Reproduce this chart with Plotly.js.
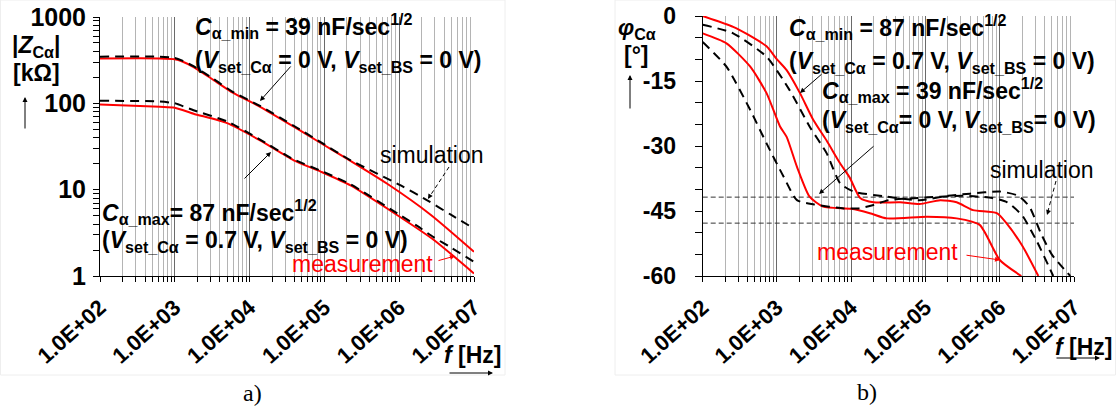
<!DOCTYPE html>
<html>
<head>
<meta charset="utf-8">
<script src="https://cdn.plot.ly/plotly-3.0.1.min.js"></script>
<style>html,body{margin:0;padding:0;background:#fff;}#chart{width:1116px;height:410px;}</style>
</head>
<body>
<div id="chart"></div>
<script>
// ---------- data ----------
// Panel a) |Z_Cα| in kΩ vs frequency in Hz
const measMinF = [100, 630, 1000, 1260, 1780, 3310, 6030, 13800, 38900, 89100, 182000, 692000, 2630000, 1e7];
const measMinZ = [331, 331, 324, 305, 263, 186, 132, 91.2, 53.7, 34.7, 24.0, 11.7, 5.13, 1.91];
const simMinF  = [100, 630, 1000, 1260, 1780, 3310, 6030, 13800, 38900, 89100, 224000, 1050000, 2340000, 4900000, 1e7];
const simMinZ  = [347, 347, 335, 312, 269, 191, 135, 93.3, 55.0, 35.5, 21.9, 11.2, 7.59, 5.13, 3.55];
const measMaxF = [100, 630, 1000, 1780, 5010, 13800, 38900, 89100, 224000, 851000, 2880000, 1e7];
const measMaxZ = [97.2, 91.2, 89.1, 75.9, 58.9, 37.2, 21.9, 16.2, 11.2, 5.37, 2.63, 1.07];
const simMaxF  = [100, 630, 1000, 1780, 5010, 13800, 38900, 89100, 224000, 1050000, 1740000, 2880000, 4900000, 1e7];
const simMaxZ  = [107, 105, 100, 83.2, 61.7, 38.0, 22.4, 16.6, 11.5, 5.01, 3.80, 2.82, 2.14, 1.46];

// Panel b) phase in degrees vs frequency in Hz
const measAF   = [100, 257, 398, 724, 1000, 1350, 2040, 3090, 4680, 7080, 9550, 13200, 20000, 45700, 83200, 158000, 263000, 437000, 912000, 1230000, 2040000, 3310000];
const measAPhi = [0, -2.5, -4.2, -7, -10, -12.5, -17.8, -24, -28.8, -34, -37.3, -42, -43, -43, -43.4, -42.5, -43, -44.8, -45.5, -47.8, -53.2, -60];
const measBF   = [100, 209, 437, 724, 1100, 1350, 1860, 2750, 4170, 10000, 17800, 30200, 105000, 263000, 537000, 1000000, 1950000];
const measBPhi = [-4, -6.3, -11.7, -17.8, -25.5, -27.9, -34.8, -41.7, -44, -44.5, -45.5, -46.7, -46.3, -46.7, -48.2, -56.3, -60];
const simAF    = [100, 257, 724, 1480, 2750, 4680, 7080, 10700, 30200, 83200, 200000, 398000, 1000000, 1780000, 2510000, 3550000, 5010000, 8910000];
const simAPhi  = [-2, -4, -9.4, -17.1, -25.5, -31.7, -38.6, -40.5, -41.7, -42.5, -41.5, -41, -40.5, -41.5, -44, -50, -55, -60];
const simBF    = [100, 209, 437, 724, 1230, 1860, 3160, 7940, 12600, 20000, 31600, 79400, 316000, 794000, 1260000, 2000000, 3160000, 5250000];
const simBPhi  = [-6, -11.7, -21.7, -29.4, -37.1, -42.5, -43.5, -44.4, -44.4, -43.6, -42.5, -42, -41.5, -42, -43, -46, -52, -60];
const refPhi   = [-41.8, -47.8];
const refF     = [100, 1e7];

// tick labels
const freqTickVals = [1e2, 1e3, 1e4, 1e5, 1e6, 1e7];
const freqTickText = ['1.0E+02', '1.0E+03', '1.0E+04', '1.0E+05', '1.0E+06', '1.0E+07'];
const zTickVals = [1, 10, 100, 1000];
const zTickText = ['1', '10', '100', '1000'];
const phiTickVals = [-60, -45, -30, -15, 0];
const phiTickText = ['-60', '-45', '-30', '-15', '0'];

// ---------- helpers ----------
const W = 1116, H = 410;
const px = x => x / W, py = y => 1 - y / H;
const FONT = 'Liberation Sans, Arial, sans-serif';
const SERIF = 'Liberation Serif, Times New Roman, serif';
const RED = '#ff0000';

function minorLog(lo, hi) {
  const v = [];
  for (let e = lo; e < hi; e++) for (let d = 2; d <= 9; d++) v.push(d * Math.pow(10, e));
  return v;
}

const redLine = {color: RED, width: 2, shape: 'spline', smoothing: 0.6};
const dashLine = {color: '#000', width: 2, dash: '9px,6px', shape: 'spline', smoothing: 0.6};

const traces = [
  {x: measMinF, y: measMinZ, xaxis: 'x', yaxis: 'y', mode: 'lines', line: redLine},
  {x: measMaxF, y: measMaxZ, xaxis: 'x', yaxis: 'y', mode: 'lines', line: redLine},
  {x: simMinF, y: simMinZ, xaxis: 'x', yaxis: 'y', mode: 'lines', line: dashLine},
  {x: simMaxF, y: simMaxZ, xaxis: 'x', yaxis: 'y', mode: 'lines', line: dashLine},
  {x: refF, y: [refPhi[0], refPhi[0]], xaxis: 'x2', yaxis: 'y2', mode: 'lines', line: {color: '#333', width: 1, dash: '5px,3px'}},
  {x: refF, y: [refPhi[1], refPhi[1]], xaxis: 'x2', yaxis: 'y2', mode: 'lines', line: {color: '#333', width: 1, dash: '5px,3px'}},
  {x: measAF, y: measAPhi, xaxis: 'x2', yaxis: 'y2', mode: 'lines', line: redLine},
  {x: measBF, y: measBPhi, xaxis: 'x2', yaxis: 'y2', mode: 'lines', line: redLine},
  {x: simAF, y: simAPhi, xaxis: 'x2', yaxis: 'y2', mode: 'lines', line: dashLine},
  {x: simBF, y: simBPhi, xaxis: 'x2', yaxis: 'y2', mode: 'lines', line: dashLine}
];

const tickFontBold = {family: FONT, size: 23, color: '#000', weight: 'bold'};

function freqAxis(domain, anchor) {
  return {
    type: 'log', range: [2, 7], domain, anchor,
    tickmode: 'array', tickvals: freqTickVals, ticktext: freqTickText, tickangle: -42,
    tickfont: {family: FONT, size: 22, color: '#000', weight: 'bold'}, ticklabelstandoff: 4,
    showgrid: true, gridcolor: '#6a6a6a', gridwidth: 1,
    showline: true, linecolor: '#000', linewidth: 1,
    ticks: 'outside', ticklen: 5, tickcolor: '#000',
    minor: {tickmode: 'array', tickvals: minorLog(2, 7), showgrid: true, gridcolor: '#b4b4b4', gridwidth: 1,
            ticks: 'outside', ticklen: 5, tickcolor: '#000'},
    zeroline: false, fixedrange: true
  };
}

const ann = [];
function txt(x, y, text, opts) {
  ann.push(Object.assign({xref: 'paper', yref: 'paper', x: px(x), y: py(y), text, showarrow: false,
    xanchor: 'left', yanchor: 'middle', font: {family: FONT, size: 23, color: '#000'}}, opts || {}));
}
function arrow(hx, hy, tx, ty, color) {
  ann.push({xref: 'paper', yref: 'paper', x: px(hx), y: py(hy), ax: tx - hx, ay: ty - hy,
    axref: 'pixel', ayref: 'pixel', text: '', showarrow: true, arrowhead: 2, arrowsize: 1,
    arrowwidth: 1, arrowcolor: color || '#000', standoff: 0, startstandoff: 0});
}

// Panel a texts
txt(193, 26, '<b><i>C</i><sub>α_min</sub> = 39 nF/sec<sup>1/2</sup></b>');
txt(193, 61, '<b>(<i>V</i><sub>set_Cα</sub> = 0 V, <i>V</i><sub>set_BS</sub> = 0 V)</b>');
txt(100, 212, '<b><i>C</i><sub>α_max</sub>= 87 nF/sec<sup>1/2</sup></b>');
txt(100, 241, '<b>(<i>V</i><sub>set_Cα</sub> = 0.7 V, <i>V</i><sub>set_BS</sub> = 0 V)</b>');
txt(378, 155, 'simulation');
txt(290, 264, 'measurement', {font: {family: FONT, size: 23, color: RED}});
txt(442, 355, '<b><i>f</i> [Hz]</b>');
txt(36, 47, '<b>|<i>Z</i><sub>Cα</sub>|</b>', {xanchor: 'center'});
txt(36, 73, '<b>[kΩ]</b>', {xanchor: 'center'});
txt(252, 393, 'a)', {xanchor: 'center', font: {family: SERIF, size: 24, color: '#000'}});
arrow(260, 101, 292, 65);
arrow(271, 152, 243, 180);
arrow(455, 256, 437, 261, RED);
arrow(428, 199, 431, 194);
arrow(25, 97, 25, 130);
arrow(493, 373, 448, 373);

// Panel b texts
txt(787, 27, '<b><i>C</i><sub>α_min</sub> = 87 nF/sec<sup>1/2</sup></b>');
txt(787, 62, '<b>(<i>V</i><sub>set_Cα</sub> = 0.7 V, <i>V</i><sub>set_BS</sub> = 0 V)</b>');
txt(820, 90, '<b><i>C</i><sub>α_max</sub> = 39 nF/sec<sup>1/2</sup></b>');
txt(820, 121, '<b>(<i>V</i><sub>set_Cα</sub>= 0 V, <i>V</i><sub>set_BS</sub>= 0 V)</b>');
txt(988, 170, 'simulation');
txt(815, 252, 'measurement', {font: {family: FONT, size: 23, color: RED}});
txt(1053, 347, '<b><i>f</i> [Hz]</b>');
txt(637, 28, '<b><i>φ</i><sub>Cα</sub></b>', {xanchor: 'center'});
txt(636, 55, '<b>[°]</b>', {xanchor: 'center'});
txt(867, 392, 'b)', {xanchor: 'center', font: {family: SERIF, size: 24, color: '#000'}});
arrow(800, 93, 823, 73);
arrow(819, 194, 875, 145);
arrow(1000, 260, 965, 255, RED);
arrow(1047, 215, 1049, 209);
arrow(630, 75, 630, 110);
arrow(1100, 358, 1055, 358);

const shapes = [
  {type: 'rect', xref: 'paper', yref: 'paper', x0: px(0.5), x1: px(505), y0: py(0), y1: py(375), line: {color: '#eeeeee', width: 1}},
  {type: 'rect', xref: 'paper', yref: 'paper', x0: px(615), x1: px(1115.5), y0: py(0), y1: py(375), line: {color: '#eeeeee', width: 1}},
  {type: 'line', xref: 'paper', yref: 'paper', x0: px(449), y0: py(167), x1: px(430), y1: py(196), line: {color: '#000', width: 1, dash: '4px,3px'}},
  {type: 'line', xref: 'paper', yref: 'paper', x0: px(1056), y0: py(181), x1: px(1048), y1: py(211), line: {color: '#000', width: 1, dash: '4px,3px'}}
];

const layout = {
  width: W, height: H, margin: {l: 0, r: 0, t: 0, b: 0},
  paper_bgcolor: '#fff', plot_bgcolor: '#fff', showlegend: false,
  xaxis: freqAxis([px(100), px(474)], 'y'),
  yaxis: {
    type: 'log', range: [0, 3], domain: [py(276), py(17)], anchor: 'x',
    tickmode: 'array', tickvals: zTickVals, ticktext: zTickText,
    tickfont: {family: FONT, size: 25, color: '#000', weight: 'bold'},
    showgrid: false, showline: true, linecolor: '#000', linewidth: 1,
    ticks: 'outside', ticklen: 6, tickcolor: '#000', ticklabelstandoff: 2,
    minor: {tickmode: 'array', tickvals: minorLog(0, 3), ticks: 'outside', ticklen: 6, tickcolor: '#000', showgrid: false},
    zeroline: false, fixedrange: true
  },
  xaxis2: freqAxis([px(702.7), px(1074)], 'y2'),
  yaxis2: {
    range: [-60, 0], domain: [py(276), py(16)], anchor: 'x2',
    tickmode: 'array', tickvals: phiTickVals, ticktext: phiTickText,
    tickfont: tickFontBold,
    showgrid: false, showline: true, linecolor: '#000', linewidth: 1,
    ticks: 'outside', ticklen: 7, tickcolor: '#000', ticklabelstandoff: 14,
    minor: {dtick: 5, ticks: 'outside', ticklen: 7, tickcolor: '#000', showgrid: false},
    zeroline: false, fixedrange: true
  },
  annotations: ann,
  shapes: shapes
};

Plotly.newPlot('chart', traces, layout, {staticPlot: true, displayModeBar: false});
</script>
</body>
</html>
